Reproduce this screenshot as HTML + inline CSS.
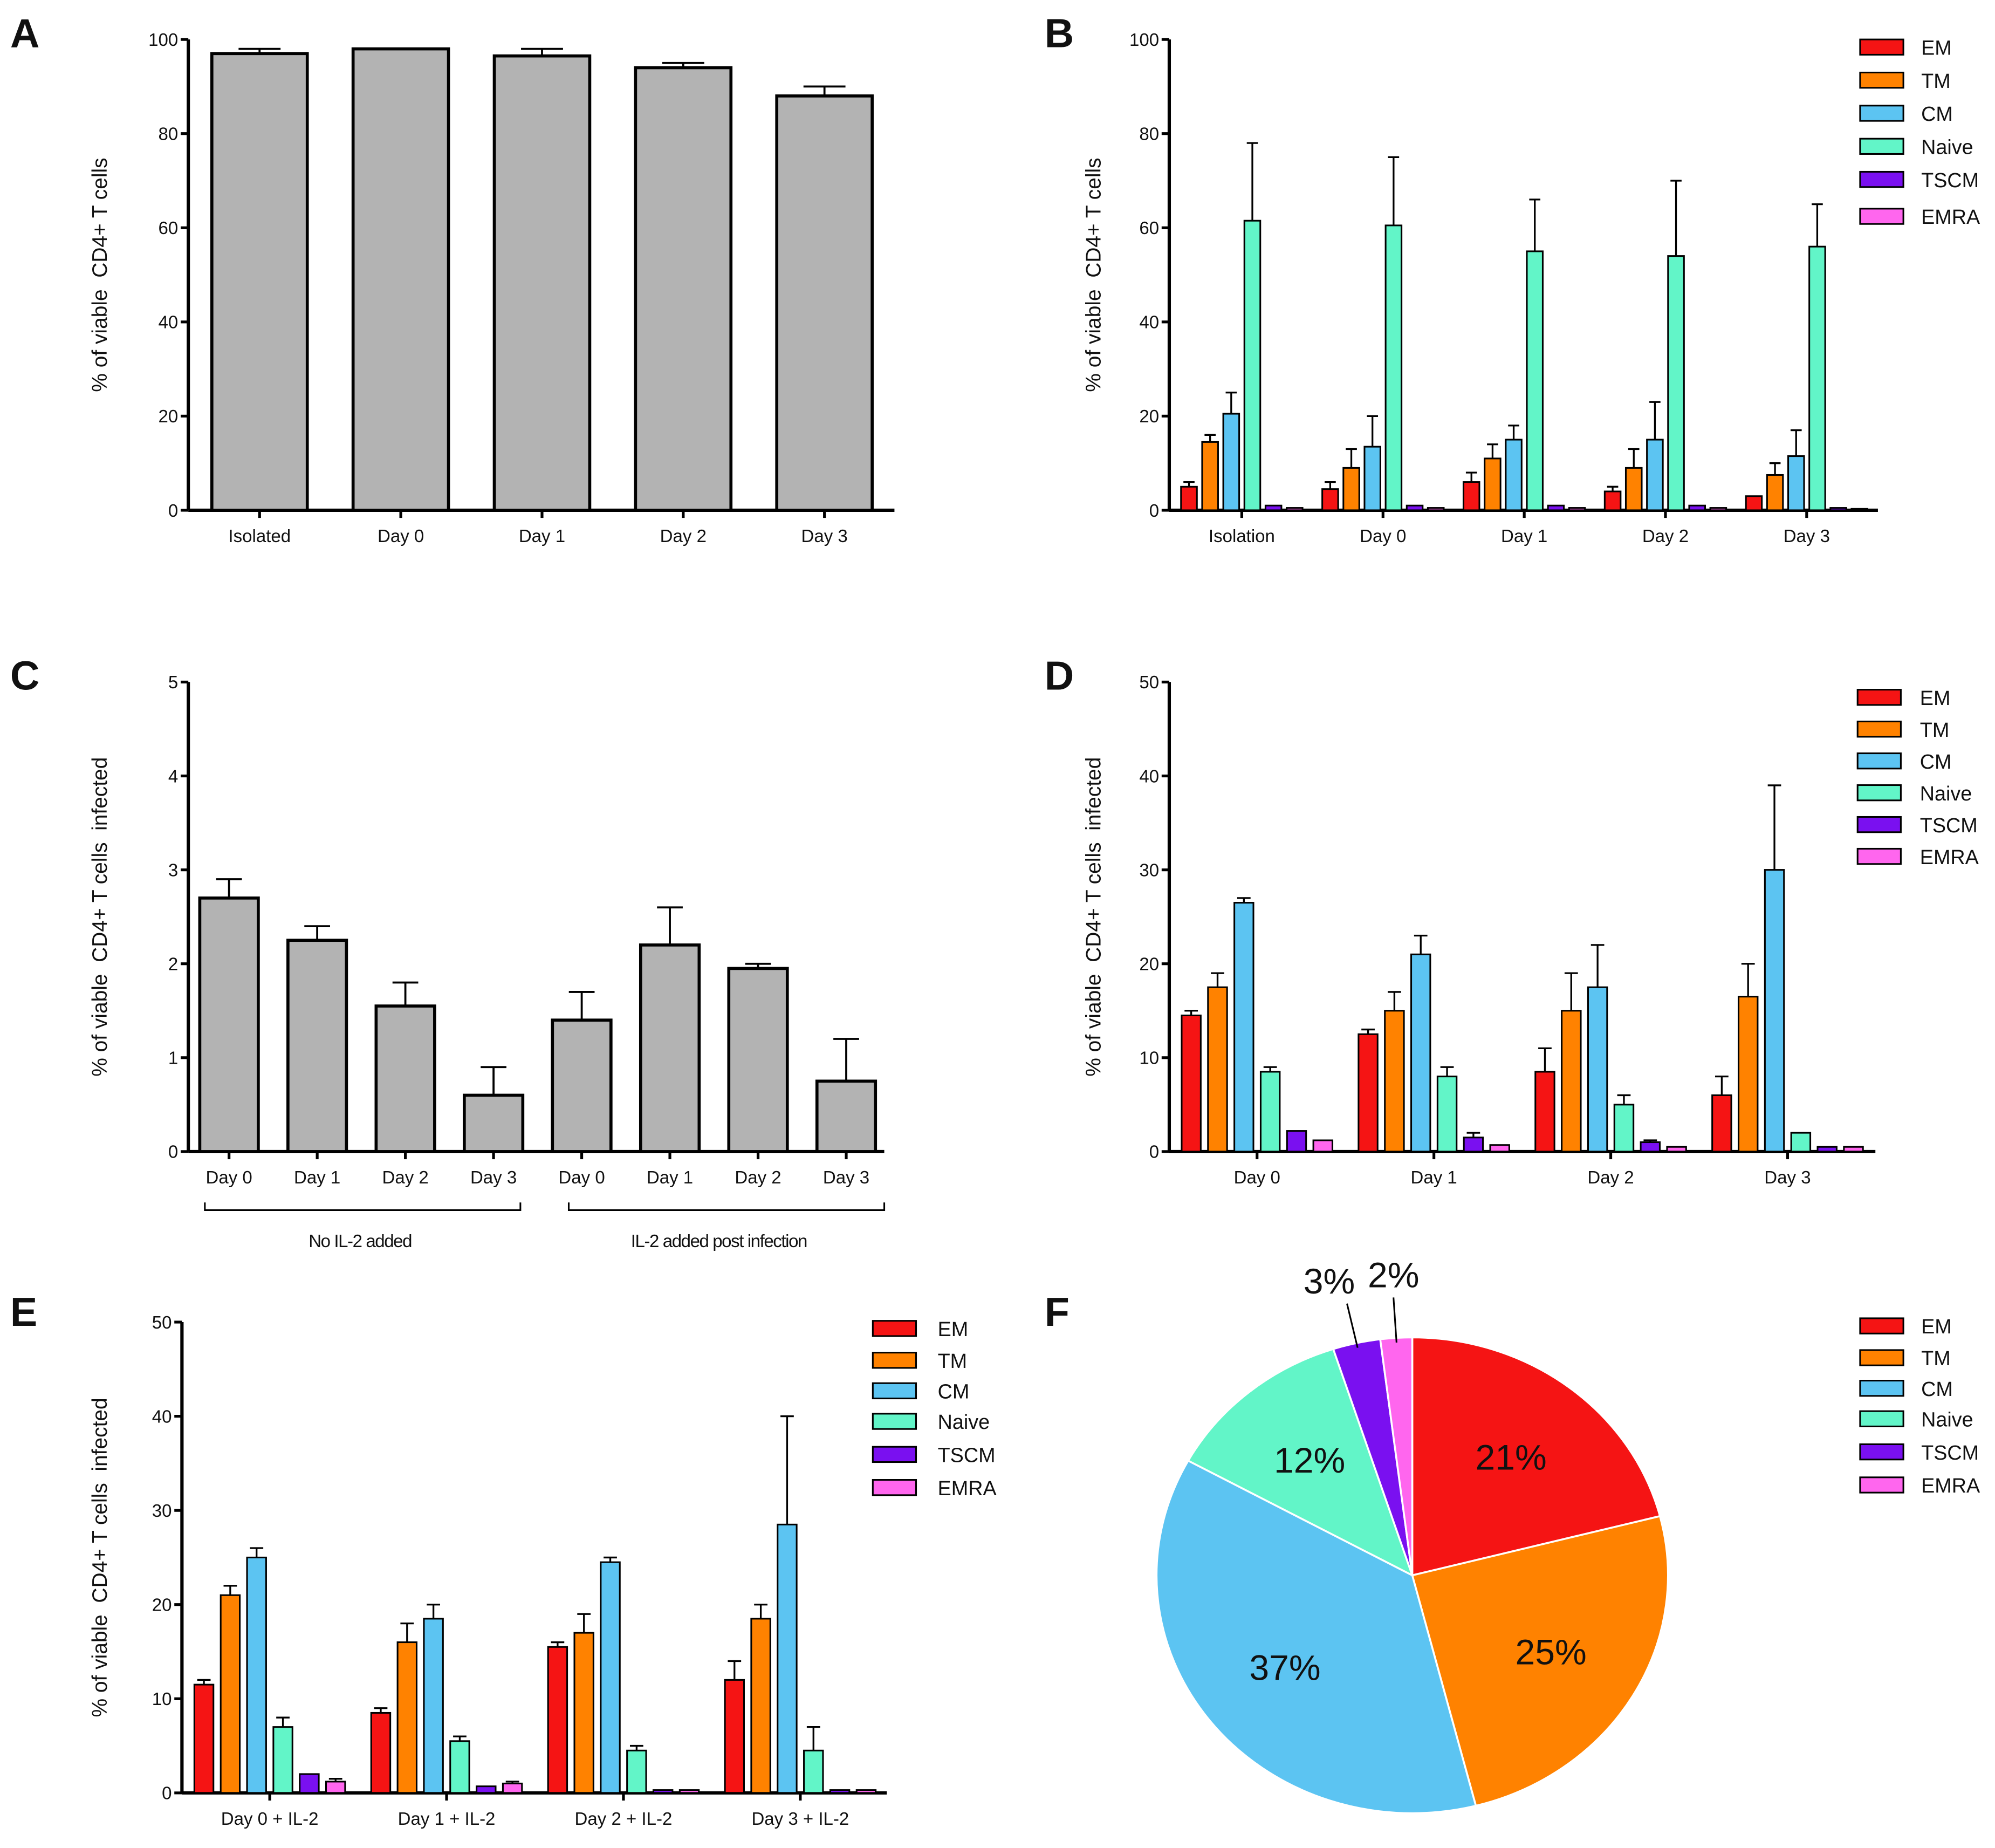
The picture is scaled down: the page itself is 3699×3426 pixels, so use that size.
<!DOCTYPE html>
<html><head><meta charset="utf-8"><style>
html,body{margin:0;padding:0;background:#fff}
svg{display:block}
text{font-family:"Liberation Sans",sans-serif;fill:#111;white-space:pre}
</style></head><body>
<svg id="fig" width="3699" height="3426" viewBox="0 0 1568 1452.3" xmlns="http://www.w3.org/2000/svg" xml:space="preserve"></svg>
<script>
const NS="http://www.w3.org/2000/svg";
const svg=document.getElementById('fig');
function mk(tag,attrs,parent,txt){const e=document.createElementNS(NS,tag);for(const k in attrs)e.setAttribute(k,attrs[k]);if(txt!==undefined)e.textContent=txt;(parent||svg).appendChild(e);return e;}

const seriesNames=["EM","TM","CM","Naive","TSCM","EMRA"];
const seriesColors=["#f51414","#ff8200","#5cc4f2","#62f5c8","#7a10f0","#ff66ee"];

// Panel A data
const aCats=["Isolated","Day 0","Day 1","Day 2","Day 3"];
const aVals=[97,98,96.5,94,88];
const aErr=[98,98,98,95,90];
const aTicks=[0,20,40,60,80,100];
// Panel C data
const cCats=["Day 0","Day 1","Day 2","Day 3","Day 0","Day 1","Day 2","Day 3"];
const cVals=[2.7,2.25,1.55,0.6,1.4,2.2,1.95,0.75];
const cErr=[2.9,2.4,1.8,0.9,1.7,2.6,2.0,1.2];
const cTicks=[0,1,2,3,4,5];
// Panel B data (rows = groups, cols = EM..EMRA)
const bCats=["Isolation","Day 0","Day 1","Day 2","Day 3"];
const bVals=[[5,14.5,20.5,61.5,1,0.5],[4.5,9,13.5,60.5,1,0.5],[6,11,15,55,1,0.5],[4,9,15,54,1,0.5],[3,7.5,11.5,56,0.5,0.3]];
const bErr=[[6,16,25,78,1,0.5],[6,13,20,75,1,0.5],[8,14,18,66,1,0.5],[5,13,23,70,1,0.5],[3,10,17,65,0.5,0.3]];
const bTicks=[0,20,40,60,80,100];
// Panel D data
const dCats=["Day 0","Day 1","Day 2","Day 3"];
const dVals=[[14.5,17.5,26.5,8.5,2.2,1.2],[12.5,15,21,8,1.5,0.7],[8.5,15,17.5,5,1,0.5],[6,16.5,30,2,0.5,0.5]];
const dErr=[[15,19,27,9,2.2,1.2],[13,17,23,9,2,0.7],[11,19,22,6,1.2,0.5],[8,20,39,2,0.5,0.5]];
const dTicks=[0,10,20,30,40,50];
// Panel E data
const eCats=["Day 0 + IL-2","Day 1 + IL-2","Day 2 + IL-2","Day 3 + IL-2"];
const eVals=[[11.5,21,25,7,2,1.2],[8.5,16,18.5,5.5,0.7,1],[15.5,17,24.5,4.5,0.3,0.3],[12,18.5,28.5,4.5,0.3,0.3]];
const eErr=[[12,22,26,8,2,1.5],[9,18,20,6,0.7,1.2],[16,19,25,5,0.3,0.3],[14,20,40,7,0.3,0.3]];
const eTicks=[0,10,20,30,40,50];
// Panel F data
const fVals=[21,25,37,12,3,2];
const fLabels=["21%","25%","37%","12%","3%","2%"];

function axes(g,x0,y0,x1,yTop,max,ticks,title,titleX){
  const ys=v=>y0-(y0-yTop)*v/max;
  const ax=mk('g',{},g);
  
  mk('line',{x1:x0,y1:y0,x2:x0,y2:yTop,stroke:'#000','stroke-width':2.6},ax);
  ticks.forEach(t=>{const y=ys(t);mk('line',{x1:x0-6,y1:y,x2:x0,y2:y,stroke:'#000','stroke-width':2.2},ax);
    const tl=mk('text',{x:x0-8,y:y+5,'text-anchor':'end','font-size':14},ax,t);
    });
  const xa=mk('line',{x1:x0,y1:y0,x2:x1,y2:y0,stroke:'#000','stroke-width':2.6},g);
  
  const tt=mk('text',{x:titleX,y:(y0+yTop)/2,'text-anchor':'middle','font-size':16.5,transform:`rotate(-90 ${titleX} ${(y0+yTop)/2})`},g,title);
  
  return ys;
}
function errbar(g,x,yv,ye,cap,sw){
  if(Math.abs(ye-yv)<0.5)return;
  mk('line',{x1:x,y1:yv,x2:x,y2:ye,stroke:'#000','stroke-width':sw},g);
  mk('line',{x1:x-cap,y1:ye,x2:x+cap,y2:ye,stroke:'#000','stroke-width':sw},g);
}
function simpleBars(name,x0,y0,x1,yTop,max,ticks,cats,vals,errs,centers0,step,bw,title,titleX){
  const g=mk('g',{});
  const ys=axes(g,x0,y0,x1,yTop,max,ticks,title,titleX);
  cats.forEach((c,i)=>{const cx=centers0+i*step;
    errbar(g,cx,ys(vals[i]),ys(errs[i]),bw*0.22,1.6);
    const r=mk('rect',{x:cx-bw/2,y:ys(vals[i]),width:bw,height:y0-ys(vals[i]),fill:'#b3b3b3',stroke:'#000','stroke-width':2.4},g);
    
    mk('line',{x1:cx,y1:y0,x2:cx,y2:y0+6,stroke:'#000','stroke-width':2.2},g);
    const t=mk('text',{x:cx,y:y0+25,'text-anchor':'middle','font-size':14},g,c);
    });
  return g;
}
function groupBars(name,x0,y0,x1,yTop,max,ticks,cats,vals,errs,c0,step,sp,bw,title,titleX){
  const g=mk('g',{});
  const ys=axes(g,x0,y0,x1,yTop,max,ticks,title,titleX);
  cats.forEach((c,i)=>{const cx=c0+i*step;
    vals[i].forEach((v,j)=>{const bx=cx+(j-2.5)*sp;
      errbar(g,bx,ys(v),ys(errs[i][j]),bw*0.35,1.4);
      const r=mk('rect',{x:bx-bw/2,y:ys(v),width:bw,height:Math.max(0.5,y0-ys(v)),fill:seriesColors[j],stroke:'#000','stroke-width':1.3},g);
      });
    mk('line',{x1:cx,y1:y0,x2:cx,y2:y0+6,stroke:'#000','stroke-width':2.2},g);
    const t=mk('text',{x:cx,y:y0+25,'text-anchor':'middle','font-size':14},g,c);
    });
  return g;
}
function legend(name,sx,ys,tx){
  const g=mk('g',{});
  seriesNames.forEach((n,j)=>{
    const e=mk('g',{},g);
    mk('rect',{x:sx,y:ys[j]-6,width:34,height:12,fill:seriesColors[j],stroke:'#000','stroke-width':1.3},e);
    mk('text',{x:tx,y:ys[j]+6,'font-size':16},e,n);});
}
function letter(t,x,y){const e=mk('text',{x:x,y:y,'font-size':32,'font-weight':'bold'},svg,t);
  }

letter('A',8,37);letter('B',821,37);letter('C',8,542);letter('D',821,542);letter('E',8,1042);letter('F',821,1042);

simpleBars('panel-a-chart',148,401,703,31,100,aTicks,aCats,aVals,aErr,204,111,75,'% of viable  CD4+ T cells',84);
const gc=simpleBars('panel-c-chart',148,905,695,536,5,cTicks,cCats,cVals,cErr,180,69.3,46,'% of viable  CD4+ T cells  infected',84);
[[161,409,283,'No IL-2 added'],[447,695,565,'IL-2 added post infection']].forEach(b=>{
  const bg=mk('g',{},gc);
  mk('path',{d:`M${b[0]} 945 V951 H${b[1]} V945`,fill:'none',stroke:'#000','stroke-width':1.3},bg);
  mk('text',{x:b[2],y:980,'text-anchor':'middle','font-size':14,'letter-spacing':'-0.6'},bg,b[3]);});

groupBars('panel-b-chart',919,401,1476,31,100,bTicks,bCats,bVals,bErr,976,111,16.6,12.5,'% of viable  CD4+ T cells',865);
legend('panel-b-legend',1462,[37,63,89,115,141,170],1510);
groupBars('panel-d-chart',919,905,1474,536,50,dTicks,dCats,dVals,dErr,988,139,20.7,15,'% of viable  CD4+ T cells  infected',865);
legend('panel-d-legend',1460,[548,573,598,623,648,673],1509);
groupBars('panel-e-chart',143,1409,697,1039,50,eTicks,eCats,eVals,eErr,212,139,20.7,15,'% of viable  CD4+ T cells  infected',84);
legend('panel-e-legend',686,[1044,1069,1093,1117,1143,1169],737);

// Pie (slightly elliptical, as in the reference)
(function(){
  const g=mk('g',{});
  const cx=1110,cy=1238,rx=201,ry=187;const tot=fVals.reduce((a,b)=>a+b,0);
  let a=0;
  const p=(ang,k)=>[cx+k*rx*Math.sin(ang),cy-k*ry*Math.cos(ang)];
  fVals.forEach((v,j)=>{const a0=a/tot*2*Math.PI,a1=(a+v)/tot*2*Math.PI;a+=v;
    const [x0,y0]=p(a0,1),[x1,y1]=p(a1,1);
    const s=mk('path',{d:`M${cx} ${cy} L${x0} ${y0} A${rx} ${ry} 0 ${a1-a0>Math.PI?1:0} 1 ${x1} ${y1} Z`,fill:seriesColors[j],stroke:'#fff','stroke-width':1.5},g);
    
    const m=(a0+a1)/2;
    if(v>=8){const [lx,ly]=p(m,0.63);
      const t=mk('text',{x:lx,y:ly+10,'text-anchor':'middle','font-size':28},g,fLabels[j]);
      }
    else{const [ex,ey]=p(m,0.98),[ox,oy]=p(m,1.17);
      mk('line',{x1:ex,y1:ey,x2:ox,y2:oy,stroke:'#000','stroke-width':1.3},g);
      const shift=(j===4)?-14:0;
      const t=mk('text',{x:ox+shift,y:oy-8,'text-anchor':'middle','font-size':28},g,fLabels[j]);
      }
  });
})();
legend('panel-f-legend',1462,[1042,1067,1091,1115,1141,1167],1510);
</script>
</body></html>
